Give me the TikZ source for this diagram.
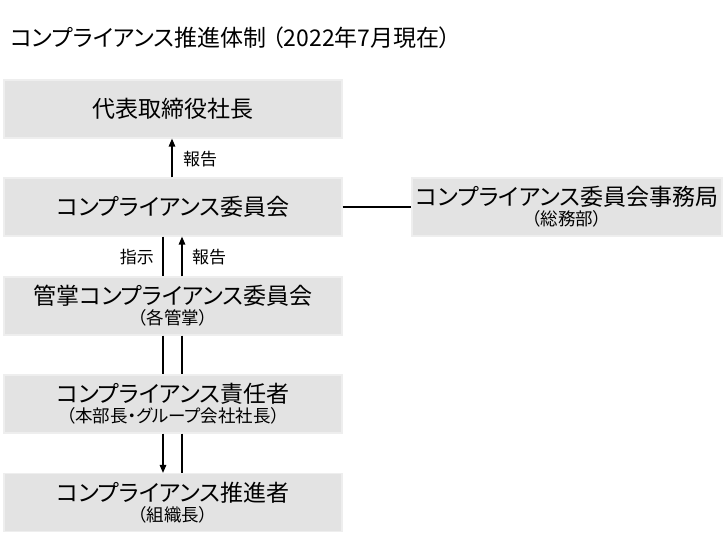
\documentclass[tikz,border=0pt]{standalone}
\usepackage{fontspec}
\usetikzlibrary{arrows.meta}
\newfontfamily\jp{Noto Sans CJK JP}[RawFeature=+palt]
\definecolor{boxfill}{RGB}{227,227,227}
\definecolor{boxline}{RGB}{238,238,238}
\newcommand{\mainsz}{\fontsize{23}{27}\selectfont}
\newcommand{\subsz}{\fontsize{17.5}{20}\selectfont}
\newcommand{\twoline}[2]{\vbox{\halign{\hfil##\hfil\cr\mainsz #1\cr\noalign{\vskip 2pt}\subsz #2\cr}}}
\begin{document}
\begin{tikzpicture}[x=1pt,y=-1pt,
  box/.style={rectangle,fill=boxfill,draw=boxline,line width=1.2pt,minimum height=58pt,inner sep=0pt,align=center,font=\jp},
  mainbox/.style={box,minimum width=338pt},
  lbl/.style={font=\jp\fontsize{17}{19}\selectfont,inner sep=0pt},
  conn/.style={line width=1.4pt},
  arr/.style={conn,-{Triangle[length=8pt,width=6.5pt]}}]
\useasboundingbox (0,0) rectangle (727,555);
\node[anchor=west,font=\jp\fontsize{23}{26}\selectfont,inner sep=0pt] (title) at (10,38) {コンプライアンス推進体制\hspace{6pt}（2022年7月現在）};
\node[mainbox] (b1) at (173,109) {\mainsz 代表取締役社長};
\node[mainbox] (b2) at (173,207) {\mainsz コンプライアンス委員会};
\node[box,minimum width=310pt] (b3) at (567,207) {\twoline{コンプライアンス委員会事務局}{（総務部）}};
\node[mainbox] (b4) at (173,306) {\twoline{管掌コンプライアンス委員会}{（各管掌）}};
\node[mainbox] (b5) at (173,404) {\twoline{コンプライアンス責任者}{（本部長・グループ会社社長）}};
\node[mainbox] (b6) at (173,502.5) {\twoline{コンプライアンス推進者}{（組織長）}};
% connectors
\draw[arr] ([xshift=-1pt]b2.north) -- ([xshift=-1pt]b1.south);
\node[lbl,anchor=west] (l1) at (183,159) {報告};
\draw[conn] (b2.east) -- (b3.west);
\draw[conn] ([xshift=-10pt]b2.south) -- ([xshift=-10pt]b4.north);
\draw[arr] ([xshift=9pt]b4.north) -- ([xshift=9pt]b2.south);
\node[lbl,anchor=east] (l2) at (154,257) {指示};
\node[lbl,anchor=west] (l3) at (192,257) {報告};
\draw[conn] ([xshift=-10pt]b4.south) -- ([xshift=-10pt]b5.north);
\draw[conn] ([xshift=9pt]b4.south) -- ([xshift=9pt]b5.north);
\draw[arr] ([xshift=-10pt]b5.south) -- ([xshift=-10pt]b6.north);
\draw[conn] ([xshift=9pt]b5.south) -- ([xshift=9pt]b6.north);
\end{tikzpicture}
\end{document}
